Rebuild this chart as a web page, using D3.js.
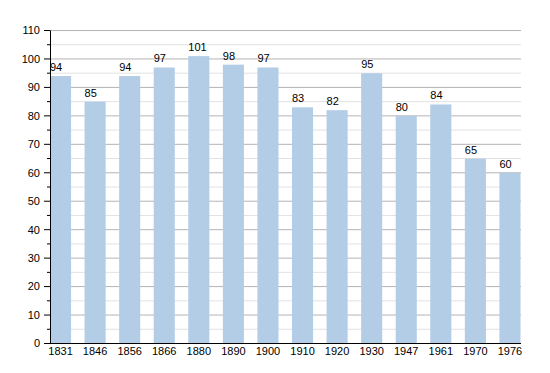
<!DOCTYPE html>
<html>
<head>
<meta charset="utf-8">
<script src="https://cdnjs.cloudflare.com/ajax/libs/d3/7.8.5/d3.min.js"></script>
<style>
  body { margin: 0; background: #fff; }
  text { font-family: "Liberation Sans", Arial, sans-serif; font-size: 11px; fill: #000; }
</style>
</head>
<body>
<svg width="550" height="373"></svg>
<script>
// data
let years = ["1831","1846","1856","1866","1880","1890","1900","1910","1920","1930","1947","1961","1970","1976"]
let pop = [94,85,94,97,101,98,97,83,82,95,80,84,65,60]
let majorTicks = [0,10,20,30,40,50,60,70,80,90,100,110]
let minorTicks = [5,15,25,35,45,55,65,75,85,95,105]

let svg = d3.select("svg")

let x = d3.scaleBand().domain(years).range([50, 520.5]).paddingInner(0.39).paddingOuter(0)
let y = d3.scaleLinear().domain([0, 110]).range([343.5, 30.5])

// grille
svg.selectAll(".minor")
    .data(minorTicks)
    .enter()
    .append("line")
    .attr("x1", 50).attr("x2", 521)
    .attr("y1", d => y(d)).attr("y2", d => y(d))
    .attr("stroke", "#e2e2e2")
    .attr("stroke-width", 1)

svg.selectAll(".major")
    .data(majorTicks.slice(1))
    .enter()
    .append("line")
    .attr("x1", 50).attr("x2", 521)
    .attr("y1", d => y(d)).attr("y2", d => y(d))
    .attr("stroke", "#b4b4b4")
    .attr("stroke-width", 1)

// barres
svg.selectAll(".bar")
    .data(pop)
    .enter()
    .append("rect")
    .attr("x", (d, i) => x(years[i]))
    .attr("y", d => y(d))
    .attr("width", x.bandwidth())
    .attr("height", d => y(0) - y(d))
    .attr("fill", "#b3cde6")

// etiquettes des valeurs
svg.selectAll(".val")
    .data(pop)
    .enter()
    .append("text")
    .attr("x", (d, i) => x(years[i]))
    .attr("y", d => y(d) - 5)
    .text(d => d)

// axe y
svg.append("line")
    .attr("x1", 50.5).attr("x2", 50.5)
    .attr("y1", y(110)).attr("y2", y(0))
    .attr("stroke", "#000")

svg.selectAll(".tmaj")
    .data(majorTicks)
    .enter()
    .append("line")
    .attr("x1", 44).attr("x2", 50)
    .attr("y1", d => y(d)).attr("y2", d => y(d))
    .attr("stroke", "#000")

svg.selectAll(".tmin")
    .data(minorTicks)
    .enter()
    .append("line")
    .attr("x1", 47).attr("x2", 50)
    .attr("y1", d => y(d)).attr("y2", d => y(d))
    .attr("stroke", "#000")

svg.selectAll(".ylab")
    .data(majorTicks)
    .enter()
    .append("text")
    .attr("x", 40)
    .attr("y", d => y(d))
    .attr("dy", "0.35em")
    .attr("text-anchor", "end")
    .text(d => d)

// axe x
svg.append("line")
    .attr("x1", 44).attr("x2", 521)
    .attr("y1", y(0)).attr("y2", y(0))
    .attr("stroke", "#000")

svg.selectAll(".xlab")
    .data(years)
    .enter()
    .append("text")
    .attr("x", d => x(d) + x.bandwidth() / 2)
    .attr("y", 355)
    .attr("text-anchor", "middle")
    .text(d => d)
</script>
</body>
</html>
